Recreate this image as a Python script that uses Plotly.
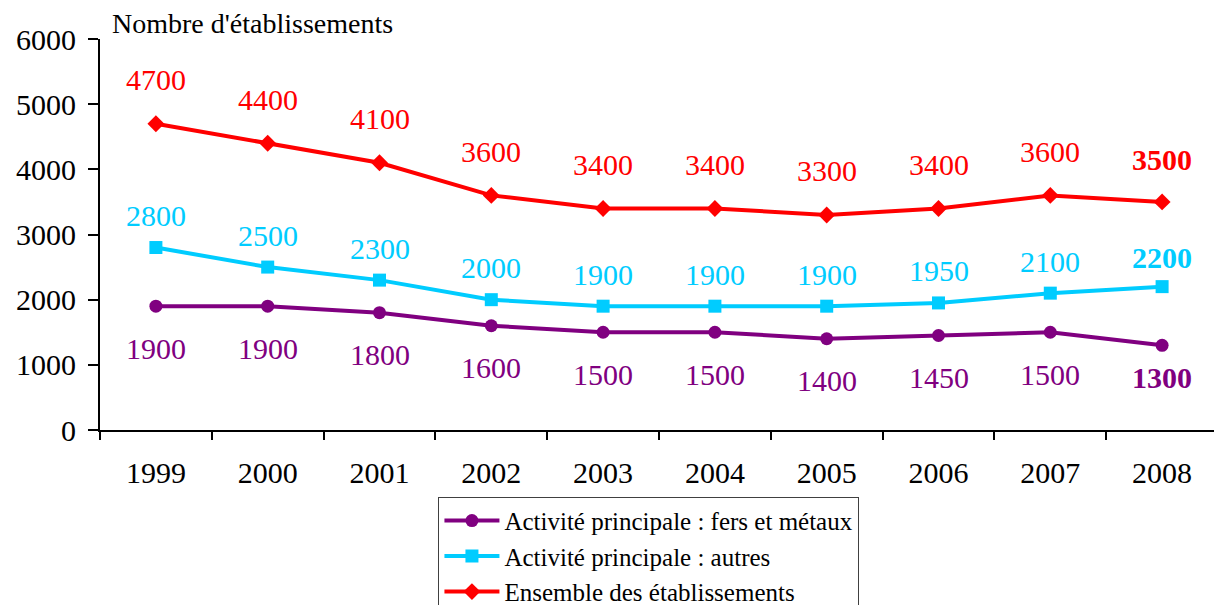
import plotly.graph_objects as go

years = ["1999", "2000", "2001", "2002", "2003", "2004", "2005", "2006", "2007", "2008"]
fers_metaux = [1900, 1900, 1800, 1600, 1500, 1500, 1400, 1450, 1500, 1300]
autres = [2800, 2500, 2300, 2000, 1900, 1900, 1900, 1950, 2100, 2200]
ensemble = [4700, 4400, 4100, 3600, 3400, 3400, 3300, 3400, 3600, 3500]

names = ["Activité principale : fers et métaux", "Activité principale : autres", "Ensemble des établissements"]
colors = ["#800080", "#00CCFF", "#FF0000"]
symbols = ["circle", "square", "diamond"]
series = [fers_metaux, autres, ensemble]
label_shift = [-42, 32, 44]
last_shift = [-32, 29, 42]

FONT = "Liberation Serif"
fig = go.Figure()
for name, col, sym, vals in zip(names, colors, symbols, series):
    fig.add_trace(go.Scatter(
        x=years, y=vals, name=name, mode="lines+markers",
        line=dict(color=col, width=4),
        marker=dict(symbol=sym, size=13, color=col),
    ))

annotations = []
for vals, col, sh, lsh in zip(series, colors, label_shift, last_shift):
    n = len(vals)
    for i, v in enumerate(vals):
        last = i == n - 1
        annotations.append(dict(
            x=i, y=v, xref="x", yref="y", showarrow=False,
            text=f"<b>{v}</b>" if last else str(v),
            yshift=lsh if last else sh,
            font=dict(family=FONT, size=30, color=col),
        ))
annotations.append(dict(
    x=0.009, y=1.0, xref="paper", yref="paper", xanchor="left", yanchor="bottom",
    text="Nombre d'établissements", showarrow=False, yshift=-2,
    font=dict(family=FONT, size=28, color="black"),
))

fig.update_layout(
    width=1222, height=605,
    margin=dict(l=92, r=12, t=31, b=183, autoexpand=False),
    paper_bgcolor="white", plot_bgcolor="white",
    font=dict(family=FONT, size=30, color="black"),
    annotations=annotations,
    showlegend=True,
    legend=dict(
        x=0.491, y=-0.171, xanchor="center", yanchor="top",
        bordercolor="#404040", borderwidth=1, bgcolor="white",
        font=dict(family=FONT, size=25, color="black"),
        tracegroupgap=0, itemwidth=55,
    ),
    xaxis=dict(
        type="category", range=[-0.5, 9.5], tickson="boundaries",
        ticks="outside", ticklen=8, tickwidth=2, tickcolor="black",
        showline=True, linecolor="black", linewidth=2,
        showgrid=False, zeroline=False, ticklabelstandoff=15,
        tickfont=dict(family=FONT, size=30, color="black"),
    ),
    yaxis=dict(
        range=[0, 6000], dtick=1000, tick0=0,
        ticks="outside", ticklen=10, tickwidth=2, tickcolor="black",
        showline=True, linecolor="black", linewidth=2,
        showgrid=False, zeroline=False, ticklabelstandoff=6,
        tickfont=dict(family=FONT, size=30, color="black"),
    ),
)

fig.write_html("out.html")
